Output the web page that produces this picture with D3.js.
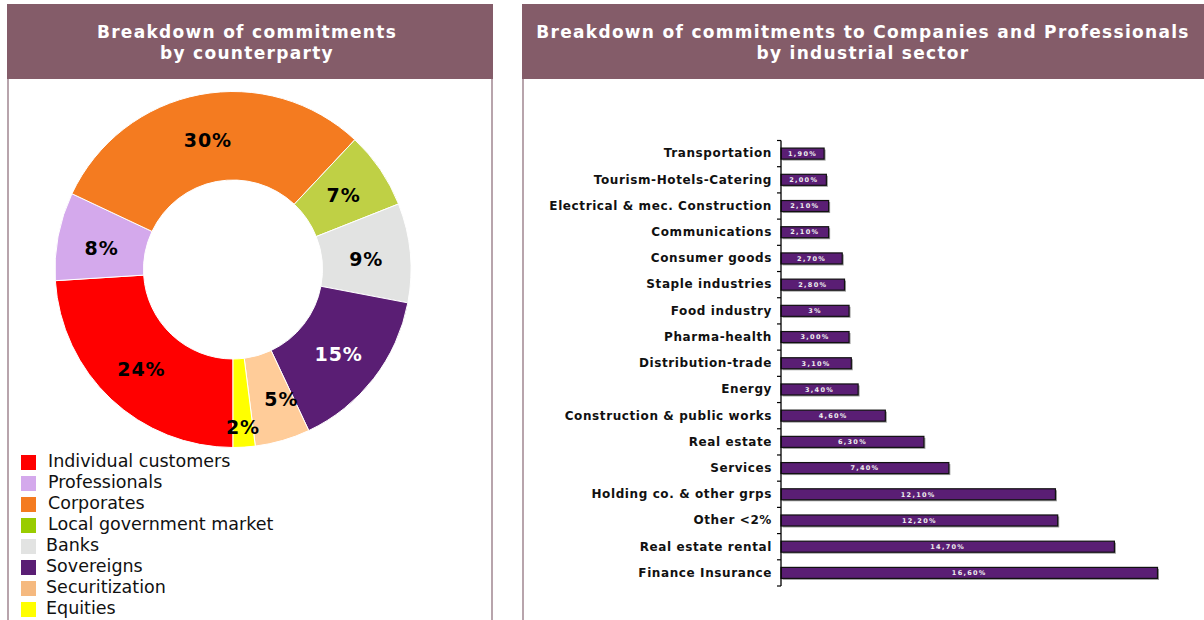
<!DOCTYPE html>
<html>
<head>
<meta charset="utf-8">
<script src="https://cdn.jsdelivr.net/npm/d3@7"></script>
<style>
  html, body { margin: 0; padding: 0; background: #fff; }
  svg { display: block; }
  text { font-family: "DejaVu Sans", Verdana, sans-serif; }
</style>
</head>
<body>
<svg id="chart" width="1204" height="620"></svg>
<script>
// Commitments by counterparty (percent of total)
const counterparties = [
  "Individual customers", "Professionals", "Corporates", "Local government market",
  "Banks", "Sovereigns", "Securitization", "Equities"
];
const counterpartyShares = [24, 8, 30, 7, 9, 15, 5, 2];

// Commitments to companies and professionals by industrial sector (percent)
const sectors = [
  "Transportation", "Tourism-Hotels-Catering", "Electrical & mec. Construction",
  "Communications", "Consumer goods", "Staple industries", "Food industry",
  "Pharma-health", "Distribution-trade", "Energy", "Construction & public works",
  "Real estate", "Services", "Holding co. & other grps", "Other <2%",
  "Real estate rental", "Finance Insurance"
];
const sectorShares = [1.9, 2.0, 2.1, 2.1, 2.7, 2.8, 3.0, 3.0, 3.1, 3.4, 4.6, 6.3, 7.4, 12.1, 12.2, 14.7, 16.6];
const sectorLabels = ["1,90%", "2,00%", "2,10%", "2,10%", "2,70%", "2,80%", "3%", "3,00%", "3,10%", "3,40%",
  "4,60%", "6,30%", "7,40%", "12,10%", "12,20%", "14,70%", "16,60%"];

// Palette
const sliceColors = ["#FF0000", "#D4A9EC", "#F47B20", "#BFD045", "#E2E3E2", "#5A1E74", "#FFCC99", "#FFFF00"];
const swatchColors = ["#FF0000", "#D4A9EC", "#F47B20", "#99CC00", "#E2E3E2", "#5A1E74", "#F5B97F", "#FFFF00"];
const headerColor = "#845C69";
const borderColor = "#A08690";
const barColor = "#5A1E74";

const svg = d3.select("#chart");

// ---------- panel frames ----------
function panel(x, w, lines) {
  const g = svg.append("g");
  g.append("rect").attr("x", x).attr("y", 4).attr("width", w).attr("height", 75).attr("fill", headerColor);
  g.append("line").attr("x1", x + 1).attr("x2", x + 1).attr("y1", 79).attr("y2", 620)
    .attr("stroke", borderColor).attr("stroke-width", 1.5);
  if (x + w < 1204) {
    g.append("line").attr("x1", x + w - 1).attr("x2", x + w - 1).attr("y1", 79).attr("y2", 620)
      .attr("stroke", borderColor).attr("stroke-width", 1.5);
  }
  const t = g.append("text").attr("text-anchor", "middle").attr("fill", "#fff")
    .attr("font-size", 17).attr("font-weight", "bold").attr("letter-spacing", 1.3);
  lines.forEach((s, i) => {
    t.append("tspan").attr("x", lines.cx).attr("y", 38 + i * 21).text(s);
  });
}
const leftTitle = ["Breakdown of commitments", "by counterparty"]; leftTitle.cx = 247;
const rightTitle = ["Breakdown of commitments to Companies and Professionals", "by industrial sector"]; rightTitle.cx = 863;
panel(7, 486, leftTitle);
panel(522, 682, rightTitle);

// ---------- donut ----------
const cx = 233, cy = 269.5, rOuter = 178, rInner = 89.5;
const pie = d3.pie().sort(null).startAngle(Math.PI).endAngle(3 * Math.PI);
const arcs = pie(counterpartyShares);
const arc = d3.arc().innerRadius(rInner).outerRadius(rOuter);
const donut = svg.append("g").attr("transform", `translate(${cx},${cy})`);
donut.selectAll("path").data(arcs).join("path")
  .attr("d", arc)
  .attr("fill", (d, i) => sliceColors[i])
  .attr("stroke", "#fff").attr("stroke-width", 1);

// label radius / nudges for the thin slices near the bottom
const labelRadius = [null, null, null, null, null, null, null, 158];
const labelNudge = [[0, 2], [0, 4], [0, 2], [0, 1], [0, 2], [0, 3], [11, 1], [0, 0]];
donut.selectAll("text.pct").data(arcs).join("text")
  .attr("class", "pct")
  .attr("transform", (d, i) => {
    let [x, y] = labelRadius[i]
      ? d3.arc().innerRadius(labelRadius[i]).outerRadius(labelRadius[i]).centroid(d)
      : arc.centroid(d);
    return `translate(${x + labelNudge[i][0]},${y + labelNudge[i][1]})`;
  })
  .attr("text-anchor", "middle").attr("dy", "0.36em")
  .attr("font-size", 19).attr("font-weight", "bold").attr("letter-spacing", 0.9)
  .attr("fill", (d, i) => i === 5 ? "#fff" : "#000")
  .text(d => d.data + "%");

// legend
const legendY = d3.scalePoint().domain(counterparties).range([461, 608]);
const legend = svg.append("g");
legend.selectAll("rect").data(counterparties).join("rect")
  .attr("x", 21).attr("y", d => legendY(d) - 6).attr("width", 15).attr("height", 15)
  .attr("fill", (d, i) => swatchColors[i]);
legend.selectAll("text").data(counterparties).join("text")
  .attr("x", (d, i) => i < 4 ? 48 : 46).attr("y", d => legendY(d)).attr("dy", "0.32em")
  .attr("font-size", 17.5).attr("fill", "#111")
  .text(d => d);

// ---------- horizontal bars ----------
const x0 = 781;
const xScale = d3.scaleLinear().domain([0, 16.6]).range([x0, 1157.5]);
const yScale = d3.scaleBand().domain(sectors).range([140.5, 586]).paddingInner(0.58).paddingOuter(0.29);

const bars = svg.append("g");
// soft drop shadow
bars.selectAll("rect.shadow").data(sectors).join("rect")
  .attr("class", "shadow")
  .attr("x", xScale(0) + 1.5).attr("y", d => yScale(d) + 1.5)
  .attr("width", (d, i) => xScale(sectorShares[i]) - xScale(0))
  .attr("height", yScale.bandwidth())
  .attr("fill", "#9a9a9a");
bars.selectAll("rect.bar").data(sectors).join("rect")
  .attr("class", "bar")
  .attr("x", xScale(0)).attr("y", d => yScale(d))
  .attr("width", (d, i) => xScale(sectorShares[i]) - xScale(0))
  .attr("height", yScale.bandwidth())
  .attr("fill", barColor).attr("stroke", "#111").attr("stroke-width", 1.2);
bars.selectAll("text.val").data(sectors).join("text")
  .attr("class", "val")
  .attr("x", (d, i) => (xScale(0) + xScale(sectorShares[i])) / 2)
  .attr("y", d => yScale(d) + yScale.bandwidth() / 2).attr("dy", "0.35em")
  .attr("text-anchor", "middle").attr("font-size", 6.5).attr("font-weight", "bold")
  .attr("letter-spacing", 1.3).attr("fill", "#eee")
  .text((d, i) => sectorLabels[i]);

// category axis (labels only), then axis line with ticks at band boundaries
const yAxis = d3.axisLeft(yScale).tickSize(0).tickPadding(9);
const ax = svg.append("g").attr("transform", `translate(${x0},0)`).call(yAxis);
ax.select(".domain").remove();
ax.selectAll("text").attr("font-size", 12).attr("font-weight", "bold").attr("fill", "#111")
  .attr("letter-spacing", 0.6).attr("font-family", "\"DejaVu Sans\", Verdana, sans-serif");

const [y0, y1] = yScale.range();
const step = yScale.step();
svg.append("line").attr("x1", x0).attr("x2", x0).attr("y1", y0).attr("y2", y1)
  .attr("stroke", "#000").attr("stroke-width", 1.3);
svg.append("g").selectAll("line").data(d3.range(sectors.length + 1)).join("line")
  .attr("x1", x0 - 4).attr("x2", x0)
  .attr("y1", i => y0 + i * step).attr("y2", i => y0 + i * step)
  .attr("stroke", "#000").attr("stroke-width", 1.2);
</script>
</body>
</html>
